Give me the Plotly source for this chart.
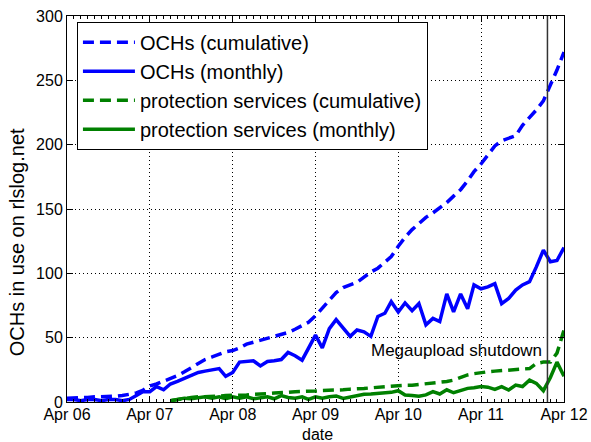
import pandas as pd
import plotly.graph_objects as go

# Monthly data points, Apr 2006 .. Apr 2012 (73 months)
start_month = "2006-04-01"

och_cumulative = [
    3, 3, 3.5, 3.5, 4, 4, 4.5, 4.5, 5, 6,
    7, 9, 12.5, 14, 16, 18, 20.5, 23.5, 26.5, 29.5,
    33, 35, 37, 39, 40, 42, 45, 46.5, 48, 49.5,
    51, 52, 54, 56.5, 59, 62, 67, 73, 79, 85,
    89, 91, 93, 97, 101, 104, 109, 113, 121, 128,
    134, 139, 143.5, 147, 151, 155, 160, 165, 172, 179,
    185, 192, 199, 203, 205, 207, 215, 221, 227, 234,
    246, 258, 272,
]

och_monthly = [
    2, 2, 1, 2, 2, 1, 2, 2, 1, 2,
    5, 8, 8, 12, 9.5, 14, 16, 18.5, 21, 23,
    24, 25, 26, 20, 23, 31, 31.5, 32, 28, 31.5,
    32, 33, 38.5, 36, 32.5, 42, 52, 42, 57, 64,
    58, 51, 56, 54.5, 51, 66.5, 69, 78, 70, 77,
    71, 76.5, 60, 65, 62.5, 84, 70, 84, 72.5, 91,
    88, 89.5, 92, 76.5, 80.5, 87, 91, 93.5, 105, 118,
    109, 110, 120,
]

prot_cumulative = [None] * 15 + [
    1, 2, 3, 3.5, 4,
    4, 4.5, 4.5, 5, 5, 5.5, 5.5, 6, 6, 6.5,
    7, 7, 7.5, 8, 8, 8.5, 8.5, 9, 9, 9.5,
    9.5, 10, 10, 10.5, 11, 11.5, 12, 12, 12.5, 13,
    13, 13.5, 14, 14.5, 15.5, 16, 17, 19, 21, 22,
    23, 23.5, 24, 24.5, 25, 25, 25.5, 26, 30, 31,
    31, 38, 56,
]

prot_monthly = [None] * 15 + [
    1, 2, 3, 2.5, 3,
    4, 3, 4, 2.5, 4, 3, 4, 2.5, 3.5, 4,
    2.5, 5, 3.5, 3, 4, 2, 4, 3, 4, 4.7,
    2.8, 4, 5.4, 6, 6.2, 6.7, 7, 7.5, 8.8, 5.4,
    5, 4.5, 5.5, 8, 6.2, 9.5, 7.2, 9, 10.6, 11.1,
    12, 11.5, 9.8, 12, 9.3, 13.2, 12, 17, 14.5, 8.8,
    19, 31, 20,
]

series_names = [
    "OCHs (cumulative)",
    "OCHs (monthly)",
    "protection services (cumulative)",
    "protection services (monthly)",
]
y_ticks = [0, 50, 100, 150, 200, 250, 300]
shutdown_date = "2012-01-19"
shutdown_label = "Megaupload shutdown"

dates = pd.date_range(start_month, periods=len(och_monthly), freq="MS")

FONT = "Liberation Sans, Arial, Helvetica, sans-serif"
BLUE = "#0000ff"
GREEN = "#008000"
DASH = "11px,6px"
LW = 3.5

fig = go.Figure()
for name, ys, color, dash in [
    (series_names[0], och_cumulative, BLUE, DASH),
    (series_names[1], och_monthly, BLUE, "solid"),
    (series_names[2], prot_cumulative, GREEN, DASH),
    (series_names[3], prot_monthly, GREEN, "solid"),
]:
    fig.add_trace(go.Scatter(
        x=dates, y=ys, mode="lines", name=name,
        line=dict(color=color, width=LW, dash=dash),
        connectgaps=False,
    ))

fig.add_vline(x=shutdown_date, line=dict(color="#333333", width=1.5))
fig.add_annotation(
    x=shutdown_date, y=40, xref="x", yref="y", text=shutdown_label,
    showarrow=False, xanchor="right", yanchor="middle", xshift=-3,
    font=dict(size=17, color="black", family=FONT),
)

# axis titles as annotations
fig.add_annotation(
    x=-0.1, y=0.4145, xref="paper", yref="paper",
    text="OCHs in use on rlslog.net", textangle=-90, showarrow=False,
    xanchor="center", yanchor="middle",
    font=dict(size=20, color="black", family=FONT),
)
fig.add_annotation(
    x=0.505, y=-0.083, xref="paper", yref="paper",
    text="date", showarrow=False, xanchor="center", yanchor="middle",
    font=dict(size=16, color="black", family=FONT),
)

fig.update_layout(
    width=591, height=442,
    margin=dict(l=67, r=27, t=16, b=40, autoexpand=False),
    paper_bgcolor="white", plot_bgcolor="white",
    font=dict(family=FONT, size=16, color="black"),
    showlegend=True,
    legend=dict(
        x=0.02, y=0.985, xanchor="left", yanchor="top",
        bordercolor="black", borderwidth=1, bgcolor="white",
        font=dict(size=20, family=FONT, color="black"),
        itemwidth=52, tracegroupgap=0,
    ),
)

fig.update_xaxes(
    type="date", automargin=False,
    range=["2006-04-01", "2012-04-01"],
    tick0="2006-04-01", dtick="M12", tickformat="%b %y",
    ticks="inside", ticklen=6, tickcolor="black", tickwidth=1,
    showline=True, linecolor="black", linewidth=1, mirror="ticks",
    showgrid=True, gridcolor="black", gridwidth=1, griddash="1px,3px",
    zeroline=False, ticklabelstandoff=-2,
    tickfont=dict(size=16, family=FONT, color="black"),
    minor=dict(dtick="M1", tick0="2006-04-01", ticks="inside", ticklen=3,
               tickcolor="black", showgrid=False),
)
fig.update_yaxes(
    automargin=False,
    range=[0, 300], tickvals=y_ticks,
    ticks="inside", ticklen=6, tickcolor="black", tickwidth=1,
    showline=True, linecolor="black", linewidth=1, mirror="ticks",
    showgrid=True, gridcolor="black", gridwidth=1, griddash="1px,3px",
    zeroline=False,
    tickfont=dict(size=16, family=FONT, color="black"),
)

fig.write_html(
    "out.html",
    config={"displayModeBar": False},
    post_script="document.body.style.margin='0';",
)
